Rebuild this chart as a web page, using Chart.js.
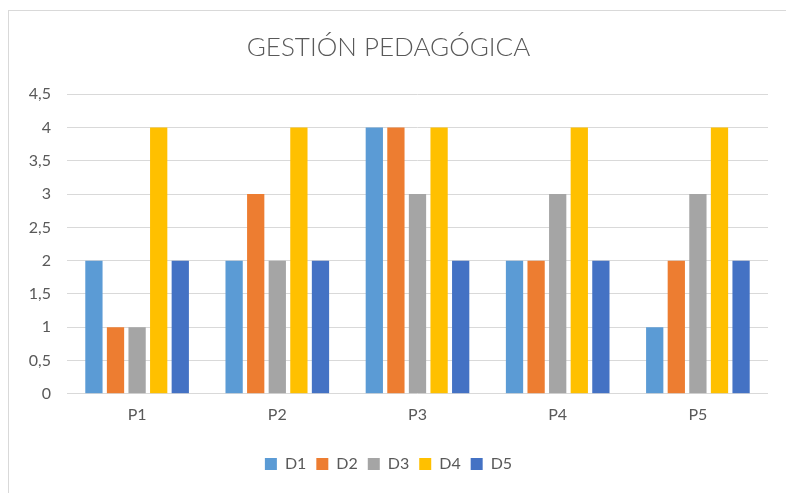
<!DOCTYPE html>
<html>
<head>
<meta charset="utf-8">
<script src="https://cdn.jsdelivr.net/npm/chart.js@4"></script>
<style>
  html, body { margin: 0; padding: 0; background: #fff; }
  body { width: 786px; height: 493px; position: relative; overflow: hidden; }
  #frame {
    position: absolute; left: 8px; top: 10px; width: 778px; height: 483px;
    border-left: 1px solid #d9d9d9; border-top: 1px solid #d9d9d9;
  }
</style>
</head>
<body>
<div id="frame"><canvas id="chart" width="777" height="482"></canvas></div>
<script>
const categories = ["P1", "P2", "P3", "P4", "P5"];
const seriesNames = ["D1", "D2", "D3", "D4", "D5"];
const d1 = [2, 2, 4, 2, 1];
const d2 = [1, 3, 4, 2, 2];
const d3 = [1, 2, 3, 3, 3];
const d4 = [4, 4, 4, 4, 4];
const d5 = [2, 2, 2, 2, 2];
const seriesColors = ["#5B9BD5", "#ED7D31", "#A5A5A5", "#FFC000", "#4472C4"];

const labelFont = { size: 16, family: "Lato, sans-serif" };
const values = [d1, d2, d3, d4, d5];

new Chart(document.getElementById("chart"), {
  type: "bar",
  data: {
    labels: categories,
    datasets: seriesNames.map((name, i) => ({
      label: name,
      data: values[i],
      backgroundColor: seriesColors[i],
      categoryPercentage: 0.77,
      barPercentage: 0.8,
    })),
  },
  options: {
    responsive: false,
    animation: false,
    layout: { padding: { left: 0, right: 18, top: 0, bottom: 11 } },
    plugins: {
      title: {
        display: true,
        text: "GESTIÓN PEDAGÓGICA",
        color: "#595959",
        font: { size: 26, family: "Lato, sans-serif", weight: 300 },
        padding: { top: 21, bottom: 31 },
      },
      legend: {
        position: "bottom",
        labels: {
          boxWidth: 12,
          boxHeight: 12,
          color: "#595959",
          font: labelFont,
          padding: 10,
        },
      },
      tooltip: { enabled: false },
    },
    scales: {
      x: {
        grid: { display: false },
        border: { display: false },
        afterFit: function (scale) {
          scale.height += 19;
        },
        ticks: { color: "#595959", font: labelFont, padding: 3 },
      },
      y: {
        min: 0,
        max: 4.5,
        afterFit: function (scale) {
          scale.width = 58;
        },
        grid: { color: "#d9d9d9", lineWidth: 1, drawTicks: false },
        border: { display: false },
        ticks: {
          stepSize: 0.5,
          color: "#595959",
          font: labelFont,
          padding: 16,
          callback: function (value) {
            return String(value).replace(".", ",");
          },
        },
      },
    },
  },
});
</script>
</body>
</html>
